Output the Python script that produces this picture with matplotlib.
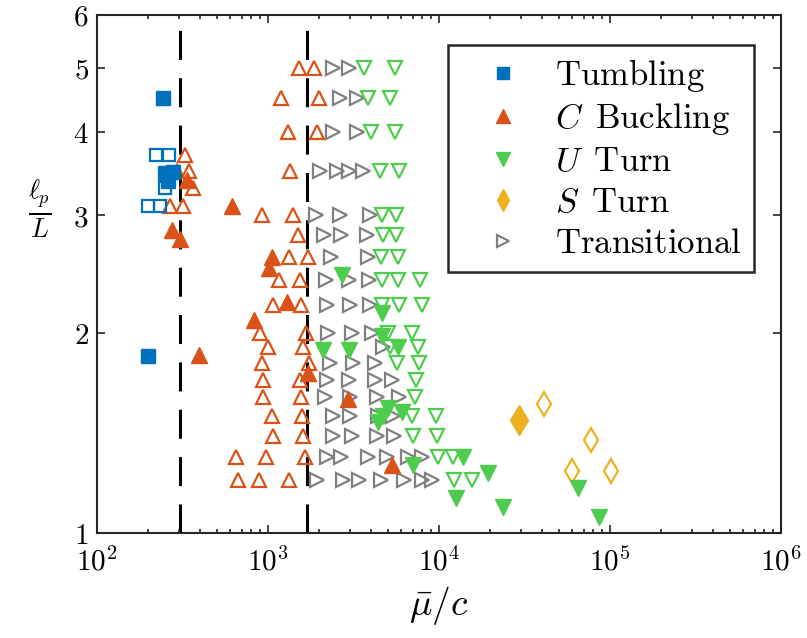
import matplotlib
matplotlib.use('Agg')
import matplotlib.pyplot as plt
from matplotlib.lines import Line2D
from matplotlib.ticker import NullLocator, LogLocator

plt.rcParams['mathtext.fontset'] = 'cm'
plt.rcParams['font.family'] = 'serif'
plt.rcParams['font.serif'] = ['DejaVu Serif']

# colours (MATLAB-ish)
blue = '#0072BD'
orange = '#D95319'
green = '#4DCC4D'
yellow = '#EDB120'
gray = '#808080'

# Tumbling
tumb_x = [242, 198, 250, 279, 261]
tumb_y = [4.5, 1.845, 3.47, 3.49, 3.38]
tumb_open_x = [221, 265, 250, 200, 234]
tumb_open_y = [3.7, 3.7, 3.3, 3.1, 3.1]

# C buckling
cbuck_x = [334, 615, 273, 306, 1060, 1020, 1285, 830, 396, 1722, 2946, 5285]
cbuck_y = [3.39, 3.1, 2.85, 2.76, 2.6, 2.5, 2.22, 2.09, 1.85, 1.74, 1.59, 1.265]
cbuck_open_x = [1520, 1860, 1197, 1977, 1309, 1936, 328, 294, 343, 1340, 366,
                266, 318, 922, 1394, 1497, 1321, 1706, 1164, 1538, 1065, 1560,
                898, 1667, 1005, 1607, 918, 1745, 931, 1538, 940, 1560,
                1050, 1574, 1074, 1593, 653, 973, 1645, 665, 889, 1333]
cbuck_open_y = [5.0, 5.0, 4.5, 4.5, 4.0, 4.0, 3.7, 3.5, 3.5, 3.5, 3.3,
                3.1, 3.1, 3.0, 3.0, 2.8, 2.6, 2.6, 2.4, 2.4, 2.2, 2.2,
                2.0, 2.0, 1.9, 1.9, 1.8, 1.8, 1.7, 1.7, 1.6, 1.6,
                1.5, 1.5, 1.4, 1.4, 1.3, 1.3, 1.3, 1.2, 1.2, 1.2]

# U turn
uturn_x = [2698, 4624, 4624, 2084, 2986, 5780, 5045, 6040, 4414, 4720,
           7010, 13770, 19410, 12500, 23550, 64700, 86300]
uturn_y = [2.44, 2.14, 1.98, 1.88, 1.88, 1.90, 1.54, 1.52, 1.47, 1.50,
           1.265, 1.30, 1.23, 1.127, 1.093, 1.167, 1.058]
uturn_open_x = [3640, 5530, 3865, 5164, 3984, 5530, 4518, 5835, 4624, 5580,
                4680, 5610, 4549, 5730, 4624, 5780, 7745, 4624, 5860, 7930,
                5035, 6950, 5160, 7570, 5650, 7675, 7300, 7245,
                6915, 9590, 7010, 9680, 9910, 12020, 12270, 15520]
uturn_open_y = [5.0, 5.0, 4.5, 4.5, 4.0, 4.0, 3.5, 3.5, 3.0, 3.0,
                2.8, 2.8, 2.6, 2.6, 2.4, 2.4, 2.4, 2.2, 2.2, 2.2,
                2.0, 2.0, 1.9, 1.9, 1.8, 1.8, 1.7, 1.6,
                1.5, 1.5, 1.4, 1.4, 1.3, 1.3, 1.2, 1.2]

# S turn
sturn_x = [29370]
sturn_y = [1.48]
sturn_open_x = [41100, 77400, 59700, 101400]
sturn_open_y = [1.56, 1.38, 1.24, 1.24]

# Transitional
trans_x = [2410, 2990, 2636, 3326, 2410, 3296, 2013, 2543, 2980, 3606,
           1900, 2636, 3945, 2118, 2660, 3811, 2335, 3865,
           2183, 2986, 3909, 2224, 3018, 3945, 2255, 3084, 4036, 4680,
           2306, 3155, 4227, 2224, 2986, 4227, 5285, 2153, 3018, 4316, 5860,
           2388, 3018, 4414, 5410, 2410, 3084, 4316, 5460,
           2200, 2660, 3865, 4940, 6605, 7930,
           1924, 2755, 3420, 4549, 6235, 7930, 9160]
trans_y = [5.0, 5.0, 4.5, 4.5, 4.0, 4.0, 3.5, 3.5, 3.5, 3.5,
           3.0, 3.0, 3.0, 2.8, 2.8, 2.8, 2.6, 2.6,
           2.4, 2.4, 2.4, 2.2, 2.2, 2.2, 2.0, 2.0, 2.0, 1.9,
           1.8, 1.8, 1.8, 1.7, 1.7, 1.7, 1.7, 1.6, 1.6, 1.6, 1.6,
           1.5, 1.5, 1.5, 1.5, 1.4, 1.4, 1.4, 1.4,
           1.3, 1.3, 1.3, 1.3, 1.3, 1.3,
           1.2, 1.2, 1.2, 1.2, 1.2, 1.2, 1.2]

# regime boundaries
bounds = [305, 1700]

fig = plt.figure(figsize=(8.07, 6.38), dpi=100)
ax = fig.add_axes([0.1202, 0.1646, 0.8476, 0.8119])

for b in bounds:
    ax.plot([b, b], [1, 6], color='k', lw=2.2, ls=(0, (9.5, 6.0)), zorder=1)

ow = 1.6
ax.plot(trans_x, trans_y, ls='none', marker='>', ms=9.5, mfc='none', mec=gray, mew=ow, zorder=2)
ax.plot(cbuck_open_x, cbuck_open_y, ls='none', marker='^', ms=10, mfc='none', mec=orange, mew=ow, zorder=2)
ax.plot(uturn_open_x, uturn_open_y, ls='none', marker='v', ms=10, mfc='none', mec=green, mew=ow, zorder=2)
ax.plot(tumb_open_x, tumb_open_y, ls='none', marker='s', ms=9, mfc='none', mec=blue, mew=ow, zorder=2)
ax.plot(sturn_open_x, sturn_open_y, ls='none', marker='d', ms=12, mfc='none', mec=yellow, mew=ow, zorder=2)

ax.plot(cbuck_x, cbuck_y, ls='none', marker='^', ms=12, color=orange, zorder=3)
ax.plot(uturn_x, uturn_y, ls='none', marker='v', ms=12, color=green, zorder=3)
ax.plot(tumb_x, tumb_y, ls='none', marker='s', ms=10, color=blue, zorder=3)
ax.plot(sturn_x, sturn_y, ls='none', marker='d', ms=15, color=yellow, zorder=3)

ax.set_xscale('log')
ax.set_yscale('log')
ax.set_xlim(1e2, 1e6)
ax.set_ylim(1, 6)

ax.set_xticks([1e2, 1e3, 1e4, 1e5, 1e6])
ax.set_xticklabels([r'$10^{%d}$' % k for k in range(2, 7)])
ax.xaxis.set_minor_locator(LogLocator(base=10, subs=range(2, 10), numticks=20))
ax.set_yticks([1, 2, 3, 4, 5, 6])
ax.set_yticklabels([r'$%d$' % k for k in range(1, 7)])
ax.yaxis.set_minor_locator(NullLocator())

ax.tick_params(which='both', direction='in', top=True, right=True, width=1.2, color='#262626')
ax.tick_params(which='major', length=6, labelsize=21)
ax.tick_params(axis='x', which='major', pad=10)
ax.tick_params(axis='y', which='major', pad=6)
ax.tick_params(which='minor', length=3)
for s in ax.spines.values():
    s.set_linewidth(1.5)
    s.set_color('#262626')

ax.set_xlabel(r'$\bar{\mu}/c$', fontsize=27, labelpad=6)
ax.set_ylabel(r'$\frac{\ell_p}{L}$', fontsize=27, rotation=0, va='center')
ax.yaxis.set_label_coords(-0.083, 0.624)

handles = [
    Line2D([], [], ls='none', marker='s', ms=8, color=blue),
    Line2D([], [], ls='none', marker='^', ms=10, color=orange),
    Line2D([], [], ls='none', marker='v', ms=10, color=green),
    Line2D([], [], ls='none', marker='d', ms=11, color=yellow),
    Line2D([], [], ls='none', marker='>', ms=8, mfc='none', mec=gray, mew=1.6),
]
labels = [r'$\mathrm{Tumbling}$', r'$C\enspace\mathrm{Buckling}$', r'$U\enspace\mathrm{Turn}$',
          r'$S\enspace\mathrm{Turn}$', r'$\mathrm{Transitional}$']
leg = ax.legend(handles, labels, loc='upper right', bbox_to_anchor=(0.9605, 0.942),
                fontsize=25, frameon=True, fancybox=False, framealpha=1,
                edgecolor='#262626', handlelength=2.48, handletextpad=0.26,
                labelspacing=0.2, borderpad=0.35, borderaxespad=0)
leg.get_frame().set_linewidth(1.8)

fig.savefig('out.png', dpi=100)
